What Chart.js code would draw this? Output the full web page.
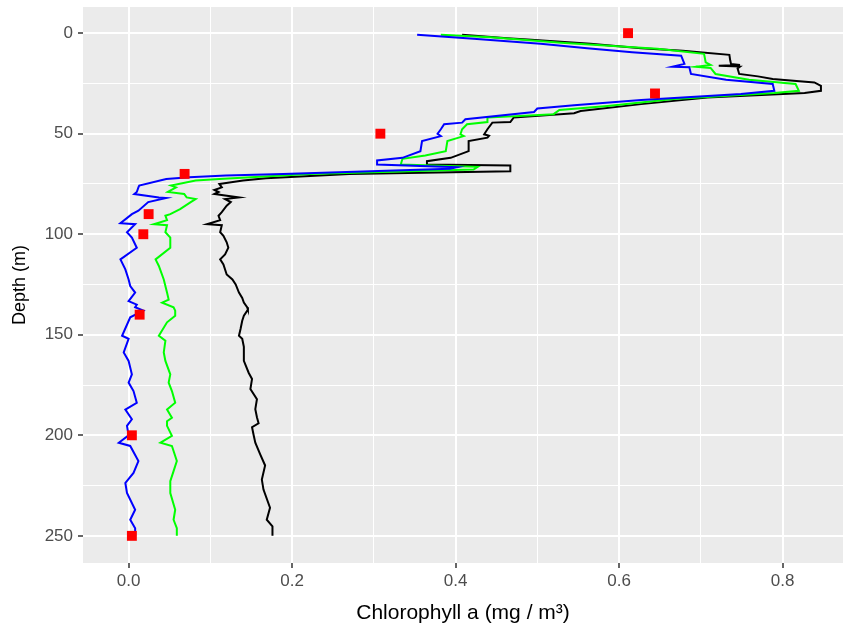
<!DOCTYPE html>
<html>
<head>
<meta charset="utf-8">
<script src="https://cdn.jsdelivr.net/npm/chart.js@4.4.1/dist/chart.umd.min.js"></script>
<style>
  body { margin: 0; background: #fff; overflow: hidden; }
  #wrap { width: 850px; height: 624px; }
</style>
</head>
<body>
<div id="wrap"><canvas id="myChart"></canvas></div>
<script>
// profile 1 (black)
let depthBlack = [0.8, 2.5, 3.2, 5.3, 7.5, 8.7, 10.8, 13.5, 15.3, 15.8, 16.2, 16.6, 17.5, 20.3, 21.5, 22.8, 24.5, 26.2, 28.7, 29.8,
  32.0, 35.3, 38.7, 39.8, 42.0, 44.2, 44.5, 47.8, 50.3, 51.0, 52.0, 53.7, 58.7, 62.0, 63.7, 65.3, 65.8, 68.7, 70.0, 72.2,
  73.3, 75.0, 76.7, 78.0, 79.0, 80.0, 81.7, 82.5, 84.0, 85.8, 89.0, 90.8, 93.0, 95.0, 95.5, 99.0, 100.8, 104.0, 106.7, 110.0,
  112.5, 115.0, 120.0, 122.5, 125.0, 129.0, 131.7, 134.0, 136.3, 137.5, 140.5, 143.0, 147.0, 150.5, 152.0, 156.0, 163.0, 169.0, 172.0, 177.0,
  182.0, 187.0, 191.0, 194.0, 196.0, 200.0, 203.7, 209.5, 215.0, 222.0, 227.0, 236.0, 242.0, 245.3, 250.0]
let chlBlack = [0.408, 0.463, 0.488, 0.565, 0.627, 0.678, 0.735, 0.736, 0.737, 0.748, 0.722, 0.748, 0.745, 0.747, 0.770, 0.788, 0.839, 0.847, 0.847, 0.827,
  0.708, 0.627, 0.553, 0.545, 0.471, 0.467, 0.445, 0.439, 0.435, 0.441, 0.439, 0.416, 0.416, 0.394, 0.365, 0.365, 0.467, 0.467, 0.270, 0.168,
  0.140, 0.111, 0.114, 0.105, 0.110, 0.105, 0.135, 0.118, 0.125, 0.120, 0.114, 0.110, 0.112, 0.096, 0.114, 0.112, 0.116, 0.120, 0.122, 0.118,
  0.112, 0.116, 0.120, 0.127, 0.131, 0.135, 0.139, 0.141, 0.145, 0.146, 0.141, 0.139, 0.137, 0.135, 0.139, 0.141, 0.141, 0.147, 0.151, 0.149,
  0.157, 0.155, 0.157, 0.159, 0.151, 0.153, 0.155, 0.161, 0.167, 0.163, 0.165, 0.173, 0.169, 0.176, 0.176]

// profile 2 (green)
let depthGreen = [0.8, 2.0, 4.8, 7.8, 10.3, 14.5, 15.8, 16.7, 17.3, 20.3, 23.2, 25.3, 28.7, 29.8, 32.8, 36.2, 38.2, 40.3, 42.0, 44.2,
  45.3, 47.8, 50.3, 51.2, 53.7, 58.7, 60.8, 62.5, 65.3, 66.5, 67.8, 70.0, 72.5, 73.3, 75.8, 76.7, 79.0, 80.0, 81.7, 82.5,
  84.0, 87.5, 90.0, 90.8, 93.0, 95.0, 95.5, 99.0, 101.7, 106.7, 112.5, 115.8, 122.5, 125.8, 129.0, 132.5, 134.0, 136.3, 138.0, 140.5,
  143.8, 150.5, 153.0, 158.8, 163.0, 169.7, 173.8, 178.0, 183.8, 187.2, 191.3, 193.0, 195.3, 200.3, 203.7, 205.3, 212.8, 217.8, 222.8, 228.7,
  237.0, 242.0, 246.2, 250.0]
let chlGreen = [0.382, 0.443, 0.529, 0.647, 0.704, 0.706, 0.712, 0.694, 0.712, 0.718, 0.759, 0.816, 0.820, 0.790, 0.667, 0.586, 0.527, 0.520, 0.439, 0.439,
  0.414, 0.408, 0.406, 0.410, 0.390, 0.388, 0.363, 0.335, 0.333, 0.427, 0.422, 0.221, 0.111, 0.082, 0.052, 0.058, 0.048, 0.068, 0.071, 0.082,
  0.076, 0.063, 0.051, 0.045, 0.047, 0.031, 0.047, 0.045, 0.051, 0.051, 0.033, 0.037, 0.043, 0.045, 0.047, 0.049, 0.041, 0.055, 0.057, 0.057,
  0.047, 0.037, 0.045, 0.043, 0.045, 0.051, 0.049, 0.053, 0.057, 0.047, 0.053, 0.047, 0.047, 0.053, 0.039, 0.053, 0.059, 0.055, 0.051, 0.051,
  0.057, 0.055, 0.059, 0.059]

// profile 3 (blue)
let depthBlue = [0.8, 2.8, 5.3, 7.5, 9.5, 11.2, 15.3, 16.7, 17.0, 20.3, 23.2, 25.3, 28.7, 30.3, 33.2, 35.8, 37.5, 39.2, 42.8, 44.5,
  45.3, 47.8, 50.0, 51.2, 53.7, 58.7, 62.0, 63.3, 65.3, 66.7, 67.5, 70.0, 70.8, 71.7, 72.5, 75.8, 76.7, 79.0, 80.0, 81.7,
  82.0, 84.0, 88.3, 90.0, 94.5, 95.0, 99.0, 101.7, 106.7, 112.5, 117.5, 122.5, 125.8, 129.0, 133.3, 135.0, 136.3, 138.0, 141.3, 150.5,
  152.0, 158.8, 163.0, 169.7, 173.8, 178.0, 183.8, 187.2, 192.0, 195.3, 200.0, 203.7, 205.3, 212.8, 218.7, 223.7, 228.7, 237.0, 242.0, 246.2,
  250.0]
let chlBlue = [0.353, 0.422, 0.504, 0.561, 0.616, 0.676, 0.680, 0.665, 0.686, 0.688, 0.731, 0.788, 0.790, 0.749, 0.627, 0.545, 0.500, 0.496, 0.412, 0.408,
  0.386, 0.382, 0.378, 0.382, 0.359, 0.357, 0.335, 0.304, 0.304, 0.402, 0.393, 0.189, 0.119, 0.074, 0.046, 0.013, 0.012, 0.010, 0.007, 0.037,
  0.046, 0.024, 0.012, 0.004, -0.010, 0.008, -0.002, 0.004, 0.010, -0.010, -0.004, 0.000, 0.002, 0.008, 0.000, 0.010, 0.008, 0.018, 0.002, -0.008,
  0.000, -0.006, 0.000, 0.004, 0.000, 0.006, 0.010, -0.004, 0.004, -0.002, 0.000, -0.012, 0.002, 0.012, 0.006, -0.004, -0.002, 0.008, 0.002, 0.008,
  0.008]

// bottle samples (red squares)
let depthSamples = [0, 30, 50, 70, 90, 100, 140, 200, 250]
let chlSamples = [0.611, 0.644, 0.308, 0.0685, 0.0245, 0.018, 0.0135, 0.004, 0.004]

let xMajor = [0, 0.2, 0.4, 0.6, 0.8]
let xMinor = [0.1, 0.3, 0.5, 0.7]
let yMajor = [0, 50, 100, 150, 200, 250]
let yMinor = [25, 75, 125, 175, 225]

function pts(xs, ys) {
  return xs.map((v, i) => ({x: v, y: ys[i]}))
}

function gridOpts(major) {
  return {
    color: '#FFFFFF',
    lineWidth: c => major.includes(c.tick.value) ? 2 : 1,
    tickColor: c => major.includes(c.tick.value) ? '#333333' : 'rgba(0,0,0,0)',
    tickWidth: 1.5,
    tickLength: 5
  }
}

// gray panel like ggplot
const panelBg = {
  id: 'panelBg',
  beforeDraw(chart) {
    const {ctx, chartArea: a} = chart
    ctx.save()
    ctx.fillStyle = '#EBEBEB'
    ctx.fillRect(a.left, a.top, a.right - a.left, a.bottom - a.top)
    ctx.restore()
  }
}

var ctx = document.getElementById('myChart').getContext('2d');
var chart = new Chart(ctx, {
  type: 'scatter',
  data: {
    datasets: [
      {
        label: 'samples',
        data: pts(chlSamples, depthSamples),
        backgroundColor: '#FF0000',
        borderWidth: 0,
        pointStyle: 'rect',
        pointRadius: 7,
        showLine: false
      },
      {
        label: 'blue',
        data: pts(chlBlue, depthBlue),
        borderColor: '#0000FF',
        borderWidth: 2,
        pointRadius: 0,
        showLine: true
      },
      {
        label: 'green',
        data: pts(chlGreen, depthGreen),
        borderColor: '#00FF00',
        borderWidth: 2,
        pointRadius: 0,
        showLine: true
      },
      {
        label: 'black',
        data: pts(chlBlack, depthBlack),
        borderColor: '#000000',
        borderWidth: 2,
        pointRadius: 0,
        showLine: true
      }
    ]
  },
  options: {
    responsive: true,
    maintainAspectRatio: false,
    animation: false,
    layout: { padding: { top: 0, right: 0, left: 0, bottom: 0 } },
    plugins: { legend: { display: false }, tooltip: { enabled: false } },
    scales: {
      x: {
        type: 'linear',
        min: -0.0558,
        max: 0.874,
        afterBuildTicks: s => { s.ticks = xMajor.concat(xMinor).map(v => ({value: v})) },
        afterFit: s => { s.height = 61; s.paddingLeft = 0; s.paddingRight = 0 },
        border: { display: false },
        grid: gridOpts(xMajor),
        ticks: {
          color: '#4D4D4D',
          font: { family: 'Liberation Sans', size: 17 },
          padding: 3,
          maxRotation: 0,
          autoSkip: false,
          callback: v => xMajor.includes(v) ? v.toFixed(1) : ''
        },
        title: {
          display: true,
          text: 'Chlorophyll a (mg / m³)',
          color: '#000000',
          font: { family: 'Liberation Sans', size: 21, lineHeight: 1 },
          padding: { top: 0, bottom: 0 }
        }
      },
      y: {
        type: 'linear',
        reverse: true,
        min: -13,
        max: 263.5,
        afterBuildTicks: s => { s.ticks = yMajor.concat(yMinor).map(v => ({value: v})) },
        afterFit: s => { s.width = 83; s.paddingTop = 5; s.paddingBottom = 0 },
        border: { display: false },
        grid: gridOpts(yMajor),
        ticks: {
          color: '#4D4D4D',
          font: { family: 'Liberation Sans', size: 17 },
          padding: 5,
          autoSkip: false,
          callback: v => yMajor.includes(v) ? String(v) : ''
        },
        title: {
          display: true,
          text: 'Depth (m)',
          color: '#000000',
          font: { family: 'Liberation Sans', size: 18, lineHeight: 1 },
          padding: { top: 11, bottom: 0 }
        }
      }
    }
  },
  plugins: [panelBg]
});
</script>
</body>
</html>
